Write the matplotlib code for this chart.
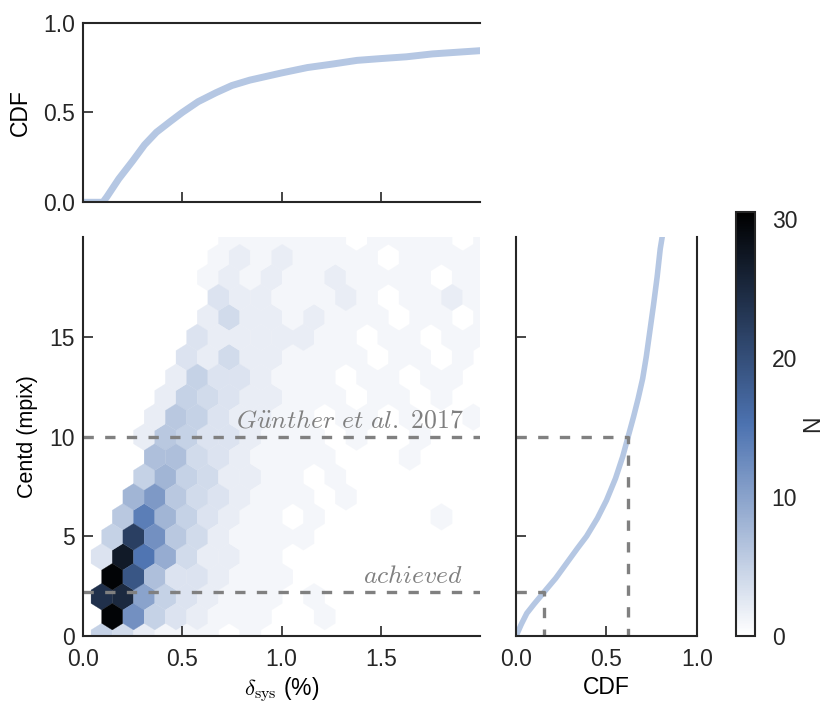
import numpy as np
import matplotlib.pyplot as plt
from matplotlib.colors import LinearSegmentedColormap

plt.rcParams['font.family'] = ['Liberation Sans', 'DejaVu Sans']
plt.rcParams['mathtext.fontset'] = 'cm'

# hexbin counts, bottom row first.
# even rows lie on the first hex lattice (20 cells), odd rows on the shifted one (19 cells)
hex_counts = [
    [0, 5, 4, 2, 1, 1, 1, 0, 1, 0, 0, 0, 0, 0, 0, 0, 0, 0, 0, 0],
    [0, 30, 12, 5, 3, 2, 1, 1, 1, 0, 0, 1, 0, 0, 0, 0, 0, 0, 0],
    [0, 24, 25, 10, 5, 3, 2, 1, 1, 1, 0, 1, 0, 0, 0, 0, 0, 0, 0, 0],
    [0, 30, 19, 7, 3, 3, 2, 1, 1, 1, 0, 0, 0, 0, 0, 0, 0, 0, 0],
    [0, 3, 27, 15, 9, 4, 2, 2, 1, 1, 0, 0, 0, 0, 0, 0, 0, 0, 0, 0],
    [0, 5, 22, 12, 6, 4, 2, 1, 1, 1, 1, 0, 0, 0, 0, 0, 0, 0, 0],
    [0, 0, 6, 14, 8, 5, 3, 2, 1, 1, 0, 1, 0, 0, 0, 0, 0, 1, 0, 0],
    [0, 0, 8, 11, 6, 4, 3, 2, 1, 1, 1, 0, 1, 0, 0, 0, 0, 0, 0],
    [0, 0, 0, 5, 8, 5, 4, 2, 2, 1, 1, 0, 1, 0, 0, 0, 0, 0, 0, 0],
    [0, 0, 0, 7, 7, 4, 3, 2, 1, 1, 1, 1, 0, 0, 0, 1, 0, 0, 0],
    [0, 0, 0, 2, 6, 5, 3, 3, 2, 1, 1, 1, 0, 1, 0, 0, 1, 0, 0, 0],
    [0, 0, 0, 2, 6, 5, 3, 2, 2, 1, 1, 0, 1, 1, 0, 1, 0, 0, 1],
    [0, 0, 0, 0, 2, 5, 4, 3, 2, 2, 1, 1, 1, 0, 1, 1, 0, 1, 0, 0],
    [0, 0, 0, 0, 2, 5, 3, 3, 2, 1, 1, 1, 0, 1, 1, 0, 1, 1, 0],
    [0, 0, 0, 0, 0, 3, 2, 4, 2, 2, 1, 1, 1, 1, 0, 1, 1, 0, 1, 0],
    [0, 0, 0, 0, 0, 3, 2, 2, 2, 2, 2, 1, 1, 0, 1, 1, 0, 1, 1],
    [0, 0, 0, 0, 0, 0, 2, 4, 2, 2, 1, 2, 1, 1, 1, 0, 1, 1, 0, 1],
    [0, 0, 0, 0, 0, 0, 3, 2, 2, 1, 1, 1, 2, 1, 0, 1, 1, 2, 1],
    [0, 0, 0, 0, 0, 0, 1, 2, 1, 2, 1, 1, 2, 1, 1, 1, 1, 0, 1, 1],
    [0, 0, 0, 0, 0, 0, 1, 2, 1, 2, 1, 1, 1, 1, 0, 1, 1, 1, 1],
    [0, 0, 0, 0, 0, 0, 0, 1, 1, 1, 1, 1, 1, 0, 1, 1, 1, 1, 0, 1],
]
hex_extent = (-0.013, 2.02, -0.03, 19.97)  # delta_sys / centd range of the binning
hex_grid = (19, 10)

# cumulative distribution of delta_sys (top panel)
dsys_vals = [0.0, 0.10, 0.12, 0.18, 0.25, 0.31, 0.37, 0.44, 0.50, 0.58, 0.67, 0.75,
             0.84, 1.00, 1.13, 1.26, 1.38, 1.50, 1.63, 1.76, 1.88, 2.00]
dsys_cdf = [0.0, 0.0, 0.03, 0.13, 0.23, 0.32, 0.39, 0.45, 0.50, 0.56, 0.61, 0.65,
            0.68, 0.72, 0.75, 0.77, 0.79, 0.80, 0.81, 0.826, 0.835, 0.844]

# cumulative distribution of centd (right panel)
centd_cdf = [0.0, 0.007, 0.03, 0.06, 0.10, 0.155, 0.22, 0.28, 0.34, 0.39, 0.45, 0.50,
             0.55, 0.59, 0.62, 0.65, 0.675, 0.70, 0.72, 0.74, 0.76, 0.78, 0.797, 0.806]
centd_vals = [0.0, 0.13, 0.6, 1.14, 1.6, 2.2, 2.9, 3.65, 4.4, 5.0, 5.9, 6.8,
              7.9, 9.0, 10.0, 11.0, 11.9, 12.9, 14.0, 15.3, 16.6, 18.0, 19.4, 19.9]

centd_guenther = 10.0
centd_achieved = 2.2
cdf_at_guenther = 0.62
cdf_at_achieved = 0.155

# turn the counts back into samples sitting on the hex centres
xmin, xmax, ymin, ymax = hex_extent
sx = (xmax - xmin) / hex_grid[0]
sy = (ymax - ymin) / hex_grid[1]
dsys, centd = [], []
for r, row in enumerate(hex_counts):
    shift = 0.5 if r % 2 else 0.0
    for i, n in enumerate(row):
        dsys += [xmin + (i + shift) * sx] * n
        centd += [ymin + r * sy / 2] * n
dsys = np.array(dsys)
centd = np.array(centd)

cmap = LinearSegmentedColormap.from_list('hexblue', ['white', '#4C72B0', 'black'])
line_col = '#b5c7e3'
dash_kw = dict(color='#808080', lw=2.4, linestyle=(0, (3.1, 3.4)))
ink = '#262626'
fs = 16.5

fig = plt.figure(figsize=(8.31, 7.15), dpi=100)
ax = fig.add_axes([0.0999, 0.1105, 0.4777, 0.558])
ax_top = fig.add_axes([0.0999, 0.7171, 0.4777, 0.2512])
ax_r = fig.add_axes([0.6209, 0.1105, 0.2178, 0.558])
cax = fig.add_axes([0.8857, 0.1105, 0.0229, 0.5925])

hb = ax.hexbin(dsys, centd, gridsize=hex_grid, extent=hex_extent, cmap=cmap,
               vmin=0, vmax=30.5, mincnt=1, linewidths=0.2, edgecolors='face')
ax.axhline(centd_guenther, **dash_kw)
ax.axhline(centd_achieved, **dash_kw)
ax.text(1.915, 10.45, r'$G\ddot{u}nther\ et\ al.\ 2017$', ha='right', va='baseline',
        color='#808080', fontsize=18.5)
ax.text(1.915, 2.65, r'$achieved$', ha='right', va='baseline', color='#808080', fontsize=18.5)
ax.set_xlim(0, 2)
ax.set_ylim(0, 20)
ax.set_xticks([0, 0.5, 1.0, 1.5])
ax.set_yticks([0, 5, 10, 15])
ax.set_xlabel(r'$\delta_\mathrm{sys}$ (%)', fontsize=fs, labelpad=3)
ax.set_ylabel('Centd (mpix)', fontsize=15.5, labelpad=8)

ax_top.plot(dsys_vals, dsys_cdf, color=line_col, lw=5)
ax_top.set_xlim(0, 2)
ax_top.set_ylim(0, 1)
ax_top.set_xticks([0.5, 1.0, 1.5])
ax_top.set_xticklabels([])
ax_top.set_yticks([0, 0.5, 1.0])
ax_top.set_ylabel('CDF', fontsize=fs, labelpad=8)

ax_r.plot(centd_cdf, centd_vals, color=line_col, lw=4)
ax_r.plot([0, cdf_at_guenther, cdf_at_guenther], [centd_guenther, centd_guenther, 0], **dash_kw)
ax_r.plot([0, cdf_at_achieved, cdf_at_achieved], [centd_achieved, centd_achieved, 0], **dash_kw)
ax_r.set_xlim(0, 1)
ax_r.set_ylim(0, 20)
ax_r.set_xticks([0, 0.5, 1.0])
ax_r.set_yticks([5, 10, 15])
ax_r.set_yticklabels([])
ax_r.set_xlabel('CDF', fontsize=fs, labelpad=3)

for a, hidden in [(ax, ['top', 'right']), (ax_top, ['right']), (ax_r, ['top'])]:
    for s in hidden:
        a.spines[s].set_visible(False)
    for s in a.spines.values():
        s.set_linewidth(1.5)
        s.set_color(ink)
    a.tick_params(direction='in', length=7, width=1.2, color=ink, labelsize=fs,
                  labelcolor=ink, pad=6)
    a.tick_params(axis='x', pad=9)

cb = fig.colorbar(hb, cax=cax, ticks=[0, 10, 20, 30])
cb.outline.set_linewidth(1.5)
cb.outline.set_edgecolor(ink)
cax.tick_params(length=0, labelsize=fs, labelcolor=ink, pad=12)
cb.set_label('N', fontsize=fs, color=ink, labelpad=3)

fig.savefig('out.png', dpi=100)
